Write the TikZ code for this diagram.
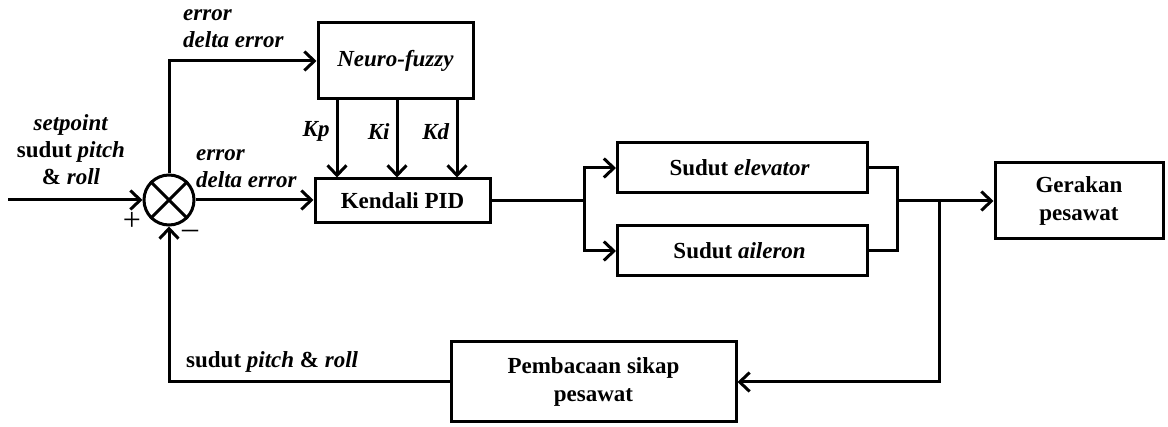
\documentclass[tikz,border=0pt]{standalone}
\usepackage{fontspec}
\setmainfont{Liberation Serif}
\usetikzlibrary{positioning,arrows.meta,calc}
\newcommand{\ib}[1]{\textit{{#1}}}
\tikzset{
    blok/.style={
        draw,
        rectangle,
        line width=3pt,
        inner sep=2pt,
        align=center,
        font=\fontsize{23}{28}\selectfont\bfseries
    },
    teks/.style={
        inner sep=0pt,
        font=\fontsize{23}{27}\selectfont\bfseries
    },
    garis/.style={line width=3pt},
    >={Straight Barb[length=10pt,width=19pt]}
}

\begin{document}
\begin{tikzpicture}[x=1pt,y=-1pt]
        \useasboundingbox (0,0) rectangle (1168,427);

        % penjumlah
        \node[draw, circle, line width=3pt, minimum size=50pt, inner sep=0pt] (Sum) at (169,200) {};
        \draw[garis] (Sum.north west) -- (Sum.south east)
                     (Sum.north east) -- (Sum.south west);

        \node[blok, minimum width=155pt, minimum height=76pt] (Neuro) at (395.5,61) {\ib{Neuro-fuzzy}};

            \node[blok, minimum width=175pt, minimum height=44pt] (PID) at (402.5,201) {Kendali PID};

                \node[blok, minimum width=250pt, minimum height=50pt] (Elevator) at (742.5,168) {
                        Sudut \ib{elevator}
                    };

                \node[blok, minimum width=250pt, minimum height=50pt, below=30pt of Elevator] (Aileron) {
                        Sudut \ib{aileron}
                    };

                    \node[blok, minimum width=168pt, minimum height=76pt] (Gerakan) at (1079,201) {
                            Gerakan
                            \\
                            pesawat
                        };

                    \node[blok, minimum width=285pt, minimum height=80pt] (Pembacaan) at (593.5,382) {
                            Pembacaan sikap
                            \\
                            pesawat
                        };

        % teks
        \node[teks, align=center] (Setpoint) at (71,150) {\ib{setpoint}\\sudut \ib{pitch}\\\& \ib{roll}};
        \node[teks, align=left, anchor=west] (ErrorAtas) at (183,29) {\ib{error}\\\ib{delta error}};
        \node[teks, align=left, anchor=west] (ErrorTengah) at (196,169) {\ib{error}\\\ib{delta error}};
        \node[teks, anchor=west] (SudutBalik) at (186,362) {sudut \ib{pitch} \& \ib{roll}};
        \node[teks, font=\fontsize{32}{32}\selectfont] (Plus) at (132,221) {+};
        \node[teks, font=\fontsize{32}{32}\selectfont] (Minus) at (190,234) {--};

        % titik bantu
        \coordinate (Masuk) at (8,200);
        \coordinate[right=93pt of PID] (Cabang);
        \coordinate (Gabung) at (897,201);
        \coordinate (Ambil) at (939,201);

        \draw[garis,->] (Masuk) -- (Sum);
        \draw[garis,->] (Sum) |- (Neuro);
        \draw[garis,->] (Sum.east) -- (Sum.east -| PID.west);
        \foreach \k/\x in {Kp/337,Ki/397,Kd/457}
            \draw[garis,->] (\x,0 |- Neuro.south) -- (\x,0 |- PID.north)
                node[teks, pos=0.4, left=6pt] {\ib{\k}};
        \draw[garis] (PID) -- (Cabang);
        \draw[garis,->] (Cabang) |- (Elevator);
        \draw[garis,->] (Cabang) |- (Aileron);
        \draw[garis] (Elevator) -| (Gabung) |- (Aileron);
        \draw[garis,->] (Gabung) -- (Gerakan);
        \draw[garis,->] (Ambil) |- (Pembacaan);
        \draw[garis,->] (Pembacaan) -| (Sum);
    \end{tikzpicture}
\end{document}
